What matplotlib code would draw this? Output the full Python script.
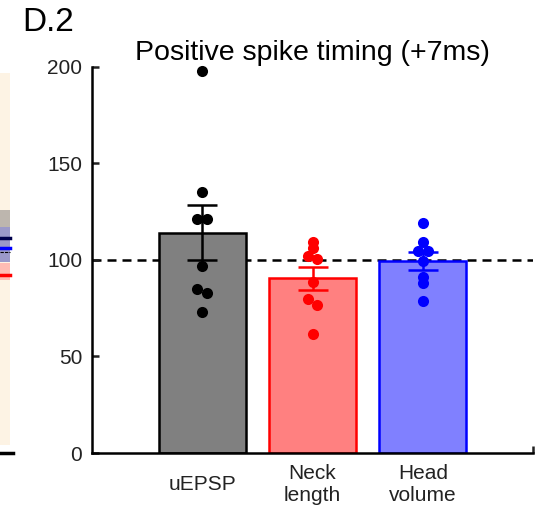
import matplotlib.pyplot as plt
import numpy as np

plt.rcParams['font.family'] = ['Liberation Sans', 'DejaVu Sans']

# groups shown in panel D.2
groups = ["uEPSP", "Neck\nlength", "Head\nvolume"]
edge_colors = ["black", "red", "blue"]
face_colors = ["#808080", "#ff8080", "#8080ff"]

# individual cells (% of baseline)
uepsp = [198, 135, 121, 121, 97, 85, 83, 73]
neck = [109.5, 106, 102, 100.3, 88.8, 79.6, 76.8, 61.5]
head = [119, 109.5, 104.8, 104.8, 99.5, 91.3, 87.9, 78.8]

# sliver of neighbouring panel (D.1) that shows at the left edge
strip_bands = [(4, 197, "#fdf3e4"), (117, 126, "#bdb6ae"), (99, 117, "#9b99c9"),
               (89.5, 98.5, "#ffbcb4")]
strip_lines = [(111.4, "#00004d"), (106, "#0000ff"), (92, "#ff0000")]


def jitter(vals, step=0.045, close=3.0):
    """spread points sitting almost on top of each other (higher one left)"""
    order = np.argsort(vals)[::-1]
    offs = np.zeros(len(vals))
    for a, b in zip(order[:-1], order[1:]):
        if vals[a] - vals[b] < close and offs[a] == 0:
            offs[a], offs[b] = -step, step
    return offs


fig = plt.figure(figsize=(5.44, 5.11), dpi=100)

# left sliver
ax0 = fig.add_axes([0, 0.1135, 13 / 544, 0.7555])
ax0.set_xlim(0, 1)
ax0.set_ylim(0, 200)
for lo, hi, c in strip_bands:
    ax0.axhspan(lo, hi, xmax=10 / 13, color=c, lw=0)
for y, c in strip_lines:
    ax0.axhline(y, xmax=10 / 13, color=c, lw=2.5)
ax0.axhline(104, xmax=10 / 13, color="black", lw=0.8, ls=(0, (3, 1)))
for s in ["top", "right", "left"]:
    ax0.spines[s].set_visible(False)
ax0.spines["bottom"].set_linewidth(2.5)
ax0.set_xticks([])
ax0.set_yticks([])
ax0.patch.set_alpha(0)

ax = fig.add_axes([92 / 544, 0.1135, 441 / 544, 0.7555])
x = np.arange(1, 4)
data = [uepsp, neck, head]
means = [np.mean(d) for d in data]
sems = [np.std(d, ddof=1) / np.sqrt(len(d)) for d in data]

ax.axhline(100, color="black", lw=1.8, ls=(0, (3.6, 2.4)), zorder=1)
ax.bar(x, means, width=0.79, color=face_colors, edgecolor=edge_colors,
       linewidth=1.8, zorder=2)
for xi, d, m, s, c in zip(x, data, means, sems, edge_colors):
    ax.errorbar(xi, m, yerr=s, color=c, lw=1.8, capsize=11, capthick=1.8, zorder=3)
    ax.plot(xi + jitter(np.array(d)), d, "o", color=c, ms=8, mew=0, zorder=4,
            clip_on=False)

ax.set_xlim(0, 4)
ax.set_ylim(0, 200)
ax.set_yticks([0, 50, 100, 150, 200])
ax.set_xticks(x)
ax.set_xticklabels(groups, va="center", linespacing=1.2)
ax.set_xticks([4], minor=True)
for s in ["top", "right"]:
    ax.spines[s].set_visible(False)
for s in ["left", "bottom"]:
    ax.spines[s].set_linewidth(1.8)
ax.tick_params(which="both", direction="in", length=5, width=1.8,
               labelsize=15, colors="#222222")
ax.tick_params(axis="x", pad=23)
ax.tick_params(axis="y", pad=7)
ax.set_title("Positive spike timing (+7ms)", fontsize=20.5, pad=5)

fig.text(22 / 544, 1 - 7 / 511, "D.2", fontsize=24, va="top", ha="left")

fig.savefig("out.png", dpi=100)
